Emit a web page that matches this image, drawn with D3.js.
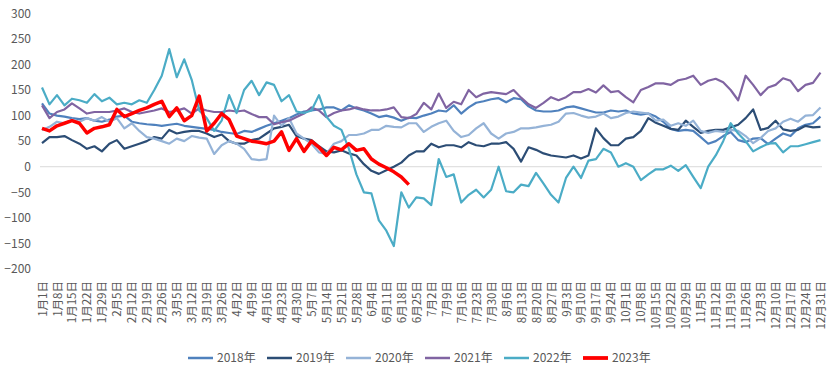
<!DOCTYPE html>
<html lang="zh">
<head>
<meta charset="UTF-8">
<title>2018-2023年 走势对比</title>
<script src="https://d3js.org/d3.v7.min.js"></script>
<style>
  body { margin: 0; background: #fff; }
  svg text { font-family: "Noto Sans CJK SC", "Microsoft YaHei", sans-serif; fill: #595959; }
</style>
</head>
<body>
<svg id="chart" width="831" height="378"></svg>
<script>
// weekly tick labels (every 7 days)
const weekLabels = ["1月1日","1月8日","1月15日","1月22日","1月29日","2月5日","2月12日","2月19日","2月26日",
  "3月5日","3月12日","3月19日","3月26日","4月2日","4月9日","4月16日","4月23日","4月30日","5月7日","5月14日",
  "5月21日","5月28日","6月4日","6月11日","6月18日","6月25日","7月2日","7月9日","7月16日","7月23日","7月30日",
  "8月6日","8月13日","8月20日","8月27日","9月3日","9月10日","9月17日","9月24日","10月1日","10月8日","10月15日",
  "10月22日","10月29日","11月5日","11月12日","11月19日","11月26日","12月3日","12月10日","12月17日","12月24日","12月31日"];

const yTicks = [-200, -150, -100, -50, 0, 50, 100, 150, 200, 250, 300];

// one reading every 3.5 days
const step = 3.5;

const s2018 = [124,104,100,98,95,93,95,90,88,92, 98,100,88,85,83,82,80,82,84,80,
  78,76,74,72,68,66,64,70,68,74, 80,85,90,95,102,108,110,112,116,116,
  110,120,114,110,104,97,100,96,90,96, 95,100,104,110,108,120,104,116,125,128,
  132,134,126,134,132,118,110,108,108,110, 116,118,114,110,106,106,110,108,110,104,
  102,104,98,88,74,70,72,70,58,45, 50,60,68,52,48,55,56,44,55,65,
  60,75,82,85,98];

const s2019 = [46,58,58,60,52,45,35,40,30,45, 52,35,40,45,50,58,55,72,65,68,
  70,70,65,58,63,50,45,45,52,55, 65,75,78,82,60,55,52,40,30,28,
  32,26,22,5,-8,-14,-7,0,8,22, 30,30,45,38,42,42,38,48,42,40,
  45,45,48,35,10,38,33,26,22,20, 18,22,16,22,75,56,42,42,55,58,
  70,95,86,80,74,72,90,78,66,70, 72,72,77,82,95,112,72,76,90,73,
  70,72,80,77,78];

const s2020 = [72,78,88,85,92,88,95,90,97,88, 95,75,85,70,58,55,50,45,55,50,
  60,57,55,25,42,50,45,35,15,13, 15,100,80,95,65,55,45,28,25,45,
  50,62,62,65,72,72,80,78,77,85, 85,68,78,85,90,70,58,62,75,85,
  65,55,65,68,75,75,77,80,82,88, 104,105,100,96,98,104,95,98,105,108,
  106,104,90,92,80,85,80,90,70,66, 70,68,72,70,60,46,56,70,75,88,
  94,88,100,101,116];

const s2021 = [120,95,107,112,124,114,104,107,107,107, 110,114,107,104,107,110,114,107,110,114,
  104,114,110,107,107,110,108,110,103,97, 97,83,87,90,97,104,116,110,97,105,
  110,112,116,112,110,110,112,116,97,95, 103,125,112,143,115,127,122,150,136,143,
  146,144,142,150,135,122,115,125,136,130, 136,146,146,152,145,159,146,148,136,126,
  150,156,163,163,160,169,172,178,160,168, 172,165,150,130,178,160,140,155,160,173,
  168,148,160,164,184];

const s2022 = [155,122,140,120,133,130,125,142,128,135, 122,125,122,130,125,150,178,230,175,210,
  170,110,95,70,90,140,105,150,168,140, 165,160,128,140,108,105,110,140,98,80,
  72,35,-15,-50,-52,-105,-125,-155,-50,-80, -60,-62,-75,15,-20,-15,-70,-55,-45,-60,
  -45,0,-48,-50,-35,-38,-12,-33,-55,-70, -22,0,-22,12,15,35,28,0,7,0,
  -26,-15,-5,-5,2,-8,3,-20,-42,0, 22,50,85,65,50,30,38,45,46,28,
  40,40,44,48,52];

const s2023 = [75,70,80,85,90,85,66,75,78,82, 112,98,104,110,115,122,128,98,115,90,
  100,138,70,85,104,92,60,55,50,48, 45,50,68,32,55,30,50,38,22,38,
  33,45,32,35,15,5,-2,-10,-20,-35];

const seriesList = [
  { name: "2018年", values: s2018, color: "#4f81bd", width: 2.2 },
  { name: "2019年", values: s2019, color: "#2c4d75", width: 2.2 },
  { name: "2020年", values: s2020, color: "#95b3d7", width: 2.2 },
  { name: "2021年", values: s2021, color: "#8064a2", width: 2.2 },
  { name: "2022年", values: s2022, color: "#4bacc6", width: 2.2 },
  { name: "2023年", values: s2023, color: "#ff0000", width: 3.5 }
];

const svg = d3.select("#chart");
const x = d3.scaleLinear().domain([0, 364]).range([42, 820.5]);
const y = d3.scaleLinear().domain([-200, 300]).range([269, 13.3]);

// y axis labels
svg.append("g")
  .attr("transform", "translate(31,0)")
  .call(d3.axisLeft(y).tickValues(yTicks).tickSize(0).tickPadding(0))
  .call(g => g.select(".domain").remove())
  .selectAll("text")
  .style("font-size", "12px");

// zero line
svg.append("line")
  .attr("x1", 40).attr("x2", 822)
  .attr("y1", y(0)).attr("y2", y(0))
  .attr("stroke", "#d9d9d9").attr("stroke-width", 1);

// x axis, rotated labels
svg.append("g")
  .attr("transform", "translate(0,278)")
  .call(d3.axisBottom(x)
    .tickValues(weekLabels.map((d, i) => i * 7))
    .tickFormat((d, i) => weekLabels[i])
    .tickSize(0))
  .call(g => g.select(".domain").remove())
  .selectAll("text")
  .attr("transform", "rotate(-90)")
  .attr("x", -3)
  .attr("y", 0)
  .attr("dy", "0.35em")
  .attr("text-anchor", "end")
  .style("font-size", "11.5px");

const line = d3.line()
  .x((d, i) => x(i * step))
  .y(d => y(d));

svg.selectAll("path.series")
  .data(seriesList)
  .join("path")
  .attr("class", "series")
  .attr("d", d => line(d.values))
  .attr("fill", "none")
  .attr("stroke", d => d.color)
  .attr("stroke-width", d => d.width)
  .attr("stroke-linejoin", "round");

// legend
const legend = svg.append("g").attr("transform", "translate(188,358)");
const item = legend.selectAll("g")
  .data(seriesList)
  .join("g")
  .attr("transform", (d, i) => `translate(${i * 79},0)`);
item.append("line")
  .attr("x1", 0).attr("x2", 25)
  .attr("stroke", d => d.color)
  .attr("stroke-width", d => d.width + 0.3);
item.append("text")
  .attr("x", 29)
  .attr("dy", "0.35em")
  .style("font-size", "12px")
  .text(d => d.name);
</script>
</body>
</html>
